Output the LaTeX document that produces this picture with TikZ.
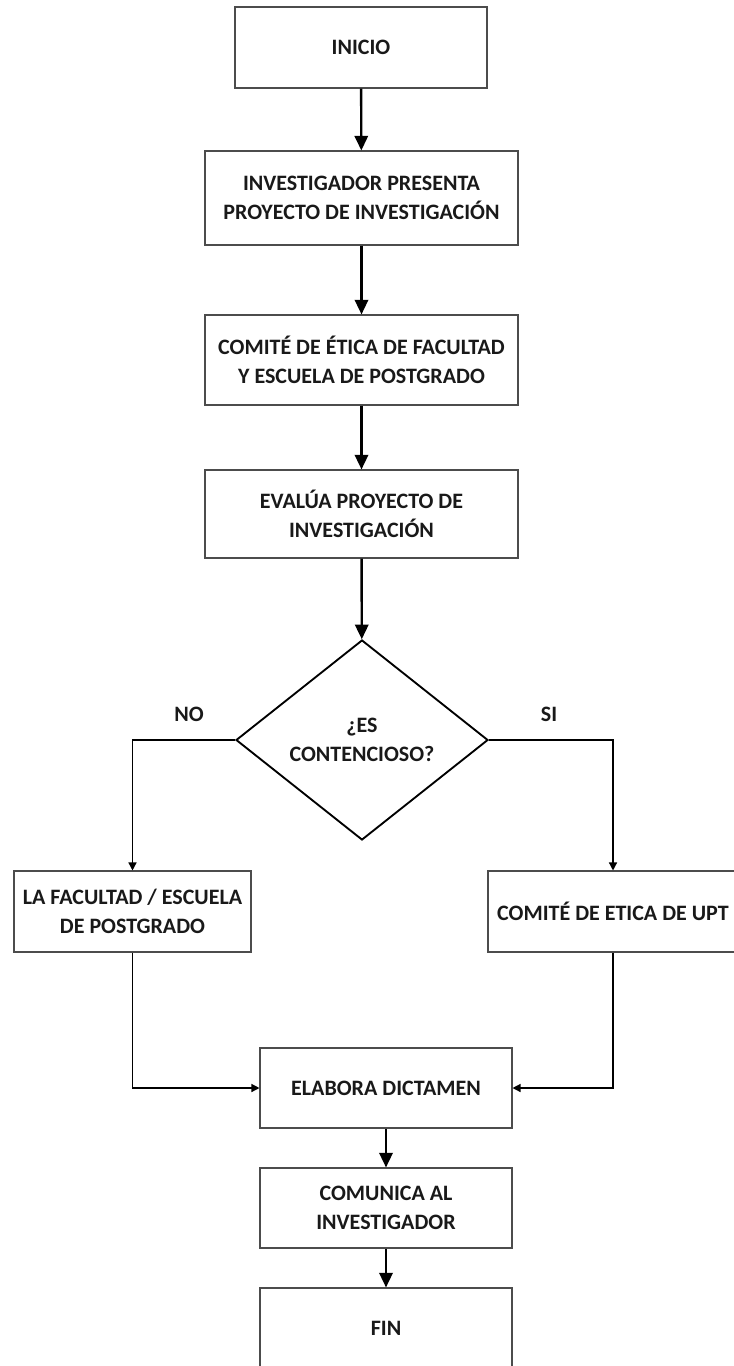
\documentclass[tikz,border=0pt]{standalone}
\usepackage{fontspec}
\setmainfont{Carlito}
\usetikzlibrary{shapes.geometric, arrows.meta}

\begin{document}
\begin{tikzpicture}[x=0.75pt, y=-0.75pt,
		txt/.style={font=\fontsize{16.5}{21.5}\selectfont\bfseries, text=black!90},
		proc/.style={txt, draw=black!70, line width=0.8pt, rectangle, align=center},
		decis/.style={txt, draw, line width=1.4pt, diamond, aspect=1.26, inner sep=0pt, align=center},
		flow/.style={->, >={Triangle[length=11pt, width=10pt]}, line width=1.8pt},
		link/.style={->, >={Triangle[length=6pt, width=6pt]}, line width=1pt}]
	\useasboundingbox (0,0) rectangle (733,1366);
				\node[proc, minimum width=189pt, minimum height=60.75pt] (inicio)at(361, 47.5) {INICIO};
				\node[proc, minimum width=234.75pt, minimum height=70.5pt] (presenta)at(361.5, 198) {INVESTIGADOR PRESENTA\\PROYECTO DE INVESTIGACIÓN};
				\node[proc, minimum width=234.75pt, minimum height=67.5pt] (comite)at(361.5, 360) {COMITÉ DE ÉTICA DE FACULTAD\\Y ESCUELA DE POSTGRADO};
				\node[proc, minimum width=234.75pt, minimum height=66pt] (evalua)at(361.5, 514) {EVALÚA PROYECTO DE\\INVESTIGACIÓN};
				\node[decis, minimum width=189pt, minimum height=150pt] (decide)at(362, 740) {¿ES\\CONTENCIOSO?};
				\node[txt] (no)at(189, 714) {NO};
				\node[txt] (si)at(549, 714) {SI};
				\node[proc, minimum width=177.75pt, minimum height=60.75pt] (facultad)at(132.5, 911.5) {LA FACULTAD / ESCUELA\\DE POSTGRADO};
				\node[proc, minimum width=187.5pt, minimum height=60.75pt] (upt)at(613, 911.5) {COMITÉ DE ETICA DE UPT};
				\node[proc, minimum width=189pt, minimum height=60pt] (dictamen)at(386, 1088) {ELABORA DICTAMEN};
				\node[proc, minimum width=189pt, minimum height=60pt] (comunica)at(386, 1208) {COMUNICA AL\\INVESTIGADOR};
				\node[proc, minimum width=189pt, minimum height=60pt] (fin)at(386, 1328) {FIN};
				\draw[flow] (inicio) -- (presenta);
				\draw[flow] (presenta) -- (comite);
				\draw[flow] (comite) -- (evalua);
				\draw[flow] (evalua) -- (decide);
				\draw[link] (decide.west) -| (facultad.north);
				\draw[link] (decide.east) -| (upt.north);
				\draw[link] (facultad.south) |- (dictamen.west);
				\draw[link] (upt.south) |- (dictamen.east);
				\draw[flow] (dictamen) -- (comunica);
				\draw[flow] (comunica) -- (fin);
			\end{tikzpicture}
\end{document}
